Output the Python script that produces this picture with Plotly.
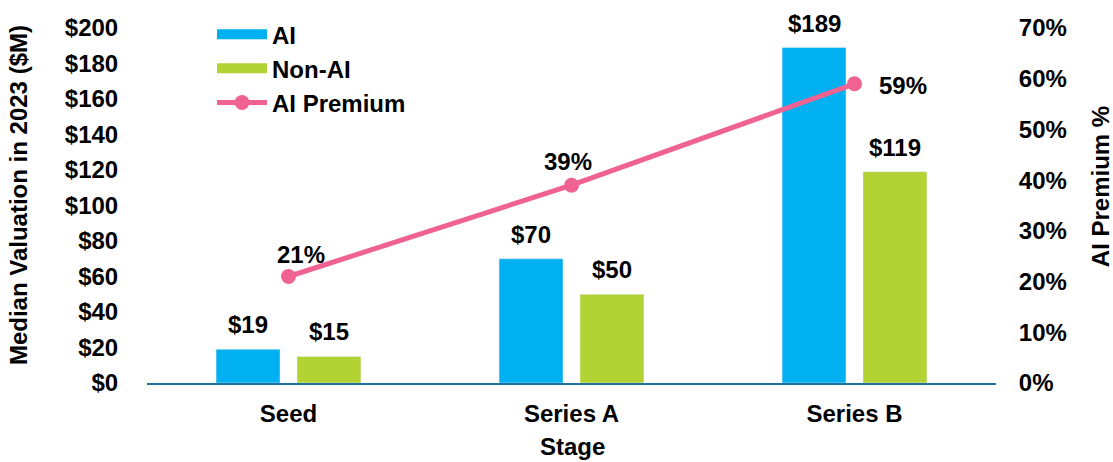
import plotly.graph_objects as go

stages = ["Seed", "Series A", "Series B"]
ai_vals = [19, 70, 189]
nonai_vals = [15, 50, 119]
premium = [0.21, 0.39, 0.59]
premium_labels = ["21%", "39%", "59%"]

FONT = "Liberation Sans, Arial, sans-serif"
FS = 24
AI_C = "#00B0F0"
NON_C = "#B3D335"
LINE_C = "#F06292"

L, R, T, B = 147, 117, 24, 79
W, H = 1113, 462
PW, PH = W - L - R, H - T - B

fig = go.Figure()
fig.add_trace(go.Bar(x=stages, y=ai_vals, name="AI", marker_color=AI_C, showlegend=False))
fig.add_trace(go.Bar(x=stages, y=nonai_vals, name="Non-AI", marker_color=NON_C, showlegend=False))
# legend swatches (wide rectangles, as in the reference)
fig.add_trace(go.Scatter(x=[None], y=[None], mode="lines", name="<b>AI</b>",
                         line=dict(color=AI_C, width=14)))
fig.add_trace(go.Scatter(x=[None], y=[None], mode="lines", name="<b>Non-AI</b>",
                         line=dict(color=NON_C, width=14)))
fig.add_trace(go.Scatter(
    x=stages, y=premium, name="<b>AI Premium</b>", yaxis="y2",
    mode="lines+markers", line=dict(color=LINE_C, width=5),
    marker=dict(color=LINE_C, size=15)))

f = dict(size=FS, color="black", family=FONT)
ann = []
for s, v in zip(stages, ai_vals):
    ann.append(dict(x=s, y=v, text=f"<b>${v}</b>", showarrow=False, xshift=-40.5,
                    yanchor="bottom", yshift=9, font=f))
for s, v in zip(stages, nonai_vals):
    ann.append(dict(x=s, y=v, text=f"<b>${v}</b>", showarrow=False, xshift=40.5,
                    yanchor="bottom", yshift=9, font=f))
shifts = [(12, 22), (-4, 24), (48, -2)]
for s, v, t, (dx, dy) in zip(stages, premium, premium_labels, shifts):
    ann.append(dict(x=s, y=v, yref="y2", text=f"<b>{t}</b>", showarrow=False,
                    xshift=dx, yshift=dy, font=f))
# axis titles
ann.append(dict(xref="paper", yref="paper", x=(18 - L) / PW, y=(383 - 193) / PH,
                xanchor="center", yanchor="middle",
                text="<b>Median Valuation in 2023 ($M)</b>", textangle=-90,
                showarrow=False, font=f))
ann.append(dict(xref="paper", yref="paper", x=(1100 - L) / PW, y=(383 - 185) / PH,
                xanchor="center", yanchor="middle",
                text="<b>AI Premium %</b>", textangle=-90, showarrow=False, font=f))
ann.append(dict(xref="paper", yref="paper", x=(572 - L) / PW, y=(383 - 447) / PH,
                xanchor="center", yanchor="middle",
                text="<b>Stage</b>", showarrow=False, font=f))

fig.update_layout(
    width=W, height=H,
    margin=dict(l=L, r=R, t=T, b=B),
    paper_bgcolor="white", plot_bgcolor="white",
    font=dict(family=FONT, size=FS, color="black"),
    barmode="group", bargap=0.428, bargroupgap=0.21,
    showlegend=True,
    legend=dict(x=(212 - L) / PW, y=1.045, xanchor="left", yanchor="top",
                font=f, bgcolor="rgba(0,0,0,0)", tracegroupgap=0, itemwidth=50),
    xaxis=dict(showgrid=False, showline=True, linecolor="#1F6FA0", linewidth=2,
               automargin=False, tickfont=f, ticks="outside", ticklen=8, tickcolor="rgba(0,0,0,0)",
               tickprefix="<b>", ticksuffix="</b>"),
    yaxis=dict(range=[0, 200], dtick=20, tickprefix="<b>$", ticksuffix="</b>",
               showgrid=False, zeroline=False, automargin=False,
               showline=False, ticks="outside", ticklen=23, tickcolor="rgba(0,0,0,0)",
               tickfont=f),
    yaxis2=dict(range=[0, 0.7], dtick=0.1, tickformat=".0%", overlaying="y", side="right",
                tickprefix="<b>", ticksuffix="</b>", automargin=False,
                showgrid=False, zeroline=False, showline=False, ticks="outside", ticklen=17,
                tickcolor="rgba(0,0,0,0)", tickfont=f),
    annotations=ann,
)
fig.write_html("out.html", config={"displayModeBar": False},
               post_script="document.body.style.margin='0';")
